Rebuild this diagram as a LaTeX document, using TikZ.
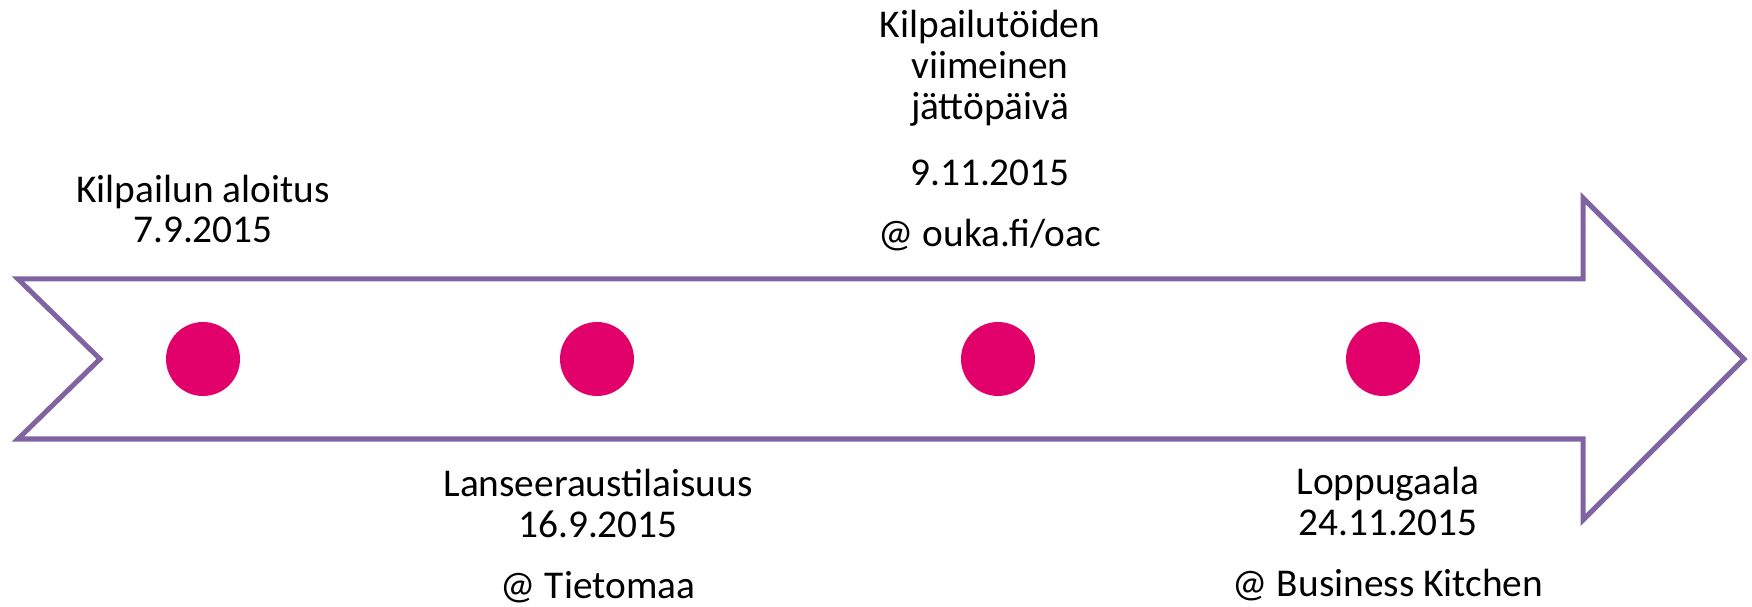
\documentclass[tikz,border=0pt]{standalone}
\usepackage{fontspec}
\setmainfont{Carlito}
\definecolor{arrowpurple}{RGB}{128,100,162}
\definecolor{dotpink}{RGB}{226,0,106}
\begin{document}
\begin{tikzpicture}[x=0.02cm,y=-0.02cm,
  dot/.style={circle,fill=dotpink,minimum size=1.48cm,inner sep=0pt},
  eventtext/.style={anchor=base,align=center,inner sep=0pt,font=\fontsize{22.4pt}{23.3pt}\selectfont}]
\useasboundingbox (0,0) rectangle (1752,607);
% timeline arrow
\draw [line width=2.85pt,color=arrowpurple,line join=miter] (18,279) -- (1583,279) -- (1583,198) -- (1744,359) -- (1583,520) -- (1583,439) -- (18,439) -- (100,359) -- cycle;
% events
\node[dot] (start) at (203,359) {};
\node[dot] (launch) at (597,359) {};
\node[dot] (deadline) at (998,359) {};
\node[dot] (gala) at (1383,359) {};
% texts (anchored at the baseline of the last line)
\node[eventtext] (starttext) at (203,243) {Kilpailun aloitus\\7.9.2015};
\node[eventtext] (launchtext) at (598,599) {Lanseeraustilaisuus\\16.9.2015\\[0.42cm]@ Tietomaa};
\node[eventtext] (deadlinetext) at (990,247) {Kilpailutöiden\\viimeinen\\jättöpäivä\\[0.5cm]9.11.2015\\[0.42cm]@ ouka.fi/oac};
\node[eventtext] (galatext) at (1388,597) {Loppugaala\\24.11.2015\\[0.42cm]@ Business Kitchen};
\end{tikzpicture}
\end{document}
